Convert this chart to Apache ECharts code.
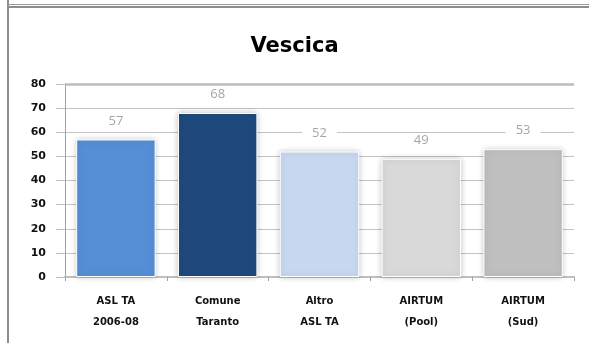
<!DOCTYPE html>
<html>
<head>
<meta charset="utf-8">
<script src="https://cdn.jsdelivr.net/npm/echarts@6/dist/echarts.min.js"></script>
<style>
  html, body { margin: 0; padding: 0; background: #fff; }
  #chart { width: 589px; height: 343px; }
</style>
</head>
<body>
<div id="chart"></div>
<script>
const categories = ['ASL TA\n2006-08', 'Comune\nTaranto', 'Altro\nASL TA', 'AIRTUM\n(Pool)', 'AIRTUM\n(Sud)']
const values = [57, 68, 52, 49, 53]
const barColors = ['#558ED5', '#1F497D', '#C6D9F1', '#D9D9D9', '#BFBFBF']
const yTicks = [0, 10, 20, 30, 40, 50, 60, 70, 80]

const chart = echarts.init(document.getElementById('chart'))

chart.setOption({
  animation: false,
  title: {
    text: 'Vescica',
    left: 'center',
    top: 31,
    textStyle: { fontFamily: 'DejaVu Sans', fontWeight: 'bold', fontSize: 21, color: '#000' }
  },
  grid: { left: 65, right: 15, top: 84, bottom: 66 },
  xAxis: {
    type: 'category',
    data: categories,
    axisLine: { lineStyle: { color: '#bfbfbf', width: 2 } },
    axisTick: { show: true, length: 4, lineStyle: { color: '#a0a0a0' } },
    axisLabel: {
      margin: 14,
      fontFamily: 'DejaVu Sans',
      fontWeight: 'bold',
      fontSize: 10,
      lineHeight: 21,
      color: '#111'
    }
  },
  yAxis: {
    type: 'value',
    min: yTicks[0],
    max: yTicks[yTicks.length - 1],
    interval: 10,
    axisLine: { show: true, lineStyle: { color: '#a0a0a0', width: 1 } },
    axisTick: { show: true, length: 9, lineStyle: { color: '#bfbfbf' } },
    axisLabel: {
      margin: 19,
      fontFamily: 'DejaVu Sans',
      fontWeight: 'bold',
      fontSize: 11,
      color: '#111'
    },
    splitLine: { lineStyle: { color: '#c4c4c4', width: 1 } }
  },
  series: [{
    type: 'bar',
    barCategoryGap: '22%',
    data: values.map((v, i) => ({
      value: v,
      itemStyle: { color: barColors[i] }
    })),
    itemStyle: {
      borderColor: '#ffffff',
      borderWidth: 1,
      shadowColor: 'rgba(0,0,0,0.22)',
      shadowBlur: 6
    },
    label: {
      show: true,
      position: 'top',
      distance: 12,
      fontFamily: 'Open Sans',
      fontSize: 13,
      color: '#a6a6a6',
      backgroundColor: '#fff',
      padding: [0, 10]
    },
    markLine: {
      silent: true,
      symbol: 'none',
      label: { show: false },
      lineStyle: { color: '#bcbcbc', width: 2.5, type: 'solid' },
      data: [{ yAxis: yTicks[yTicks.length - 1] }]
    }
  }],
  graphic: [
    { type: 'rect', shape: { x: 7, y: 0, width: 2, height: 343 }, style: { fill: '#8c8c8c' } },
    { type: 'rect', shape: { x: 8, y: 4, width: 581, height: 1 }, style: { fill: '#9a9a9a' } },
    { type: 'rect', shape: { x: 8, y: 6, width: 581, height: 2 }, style: { fill: '#8c8c8c' } }
  ]
})
</script>
</body>
</html>
